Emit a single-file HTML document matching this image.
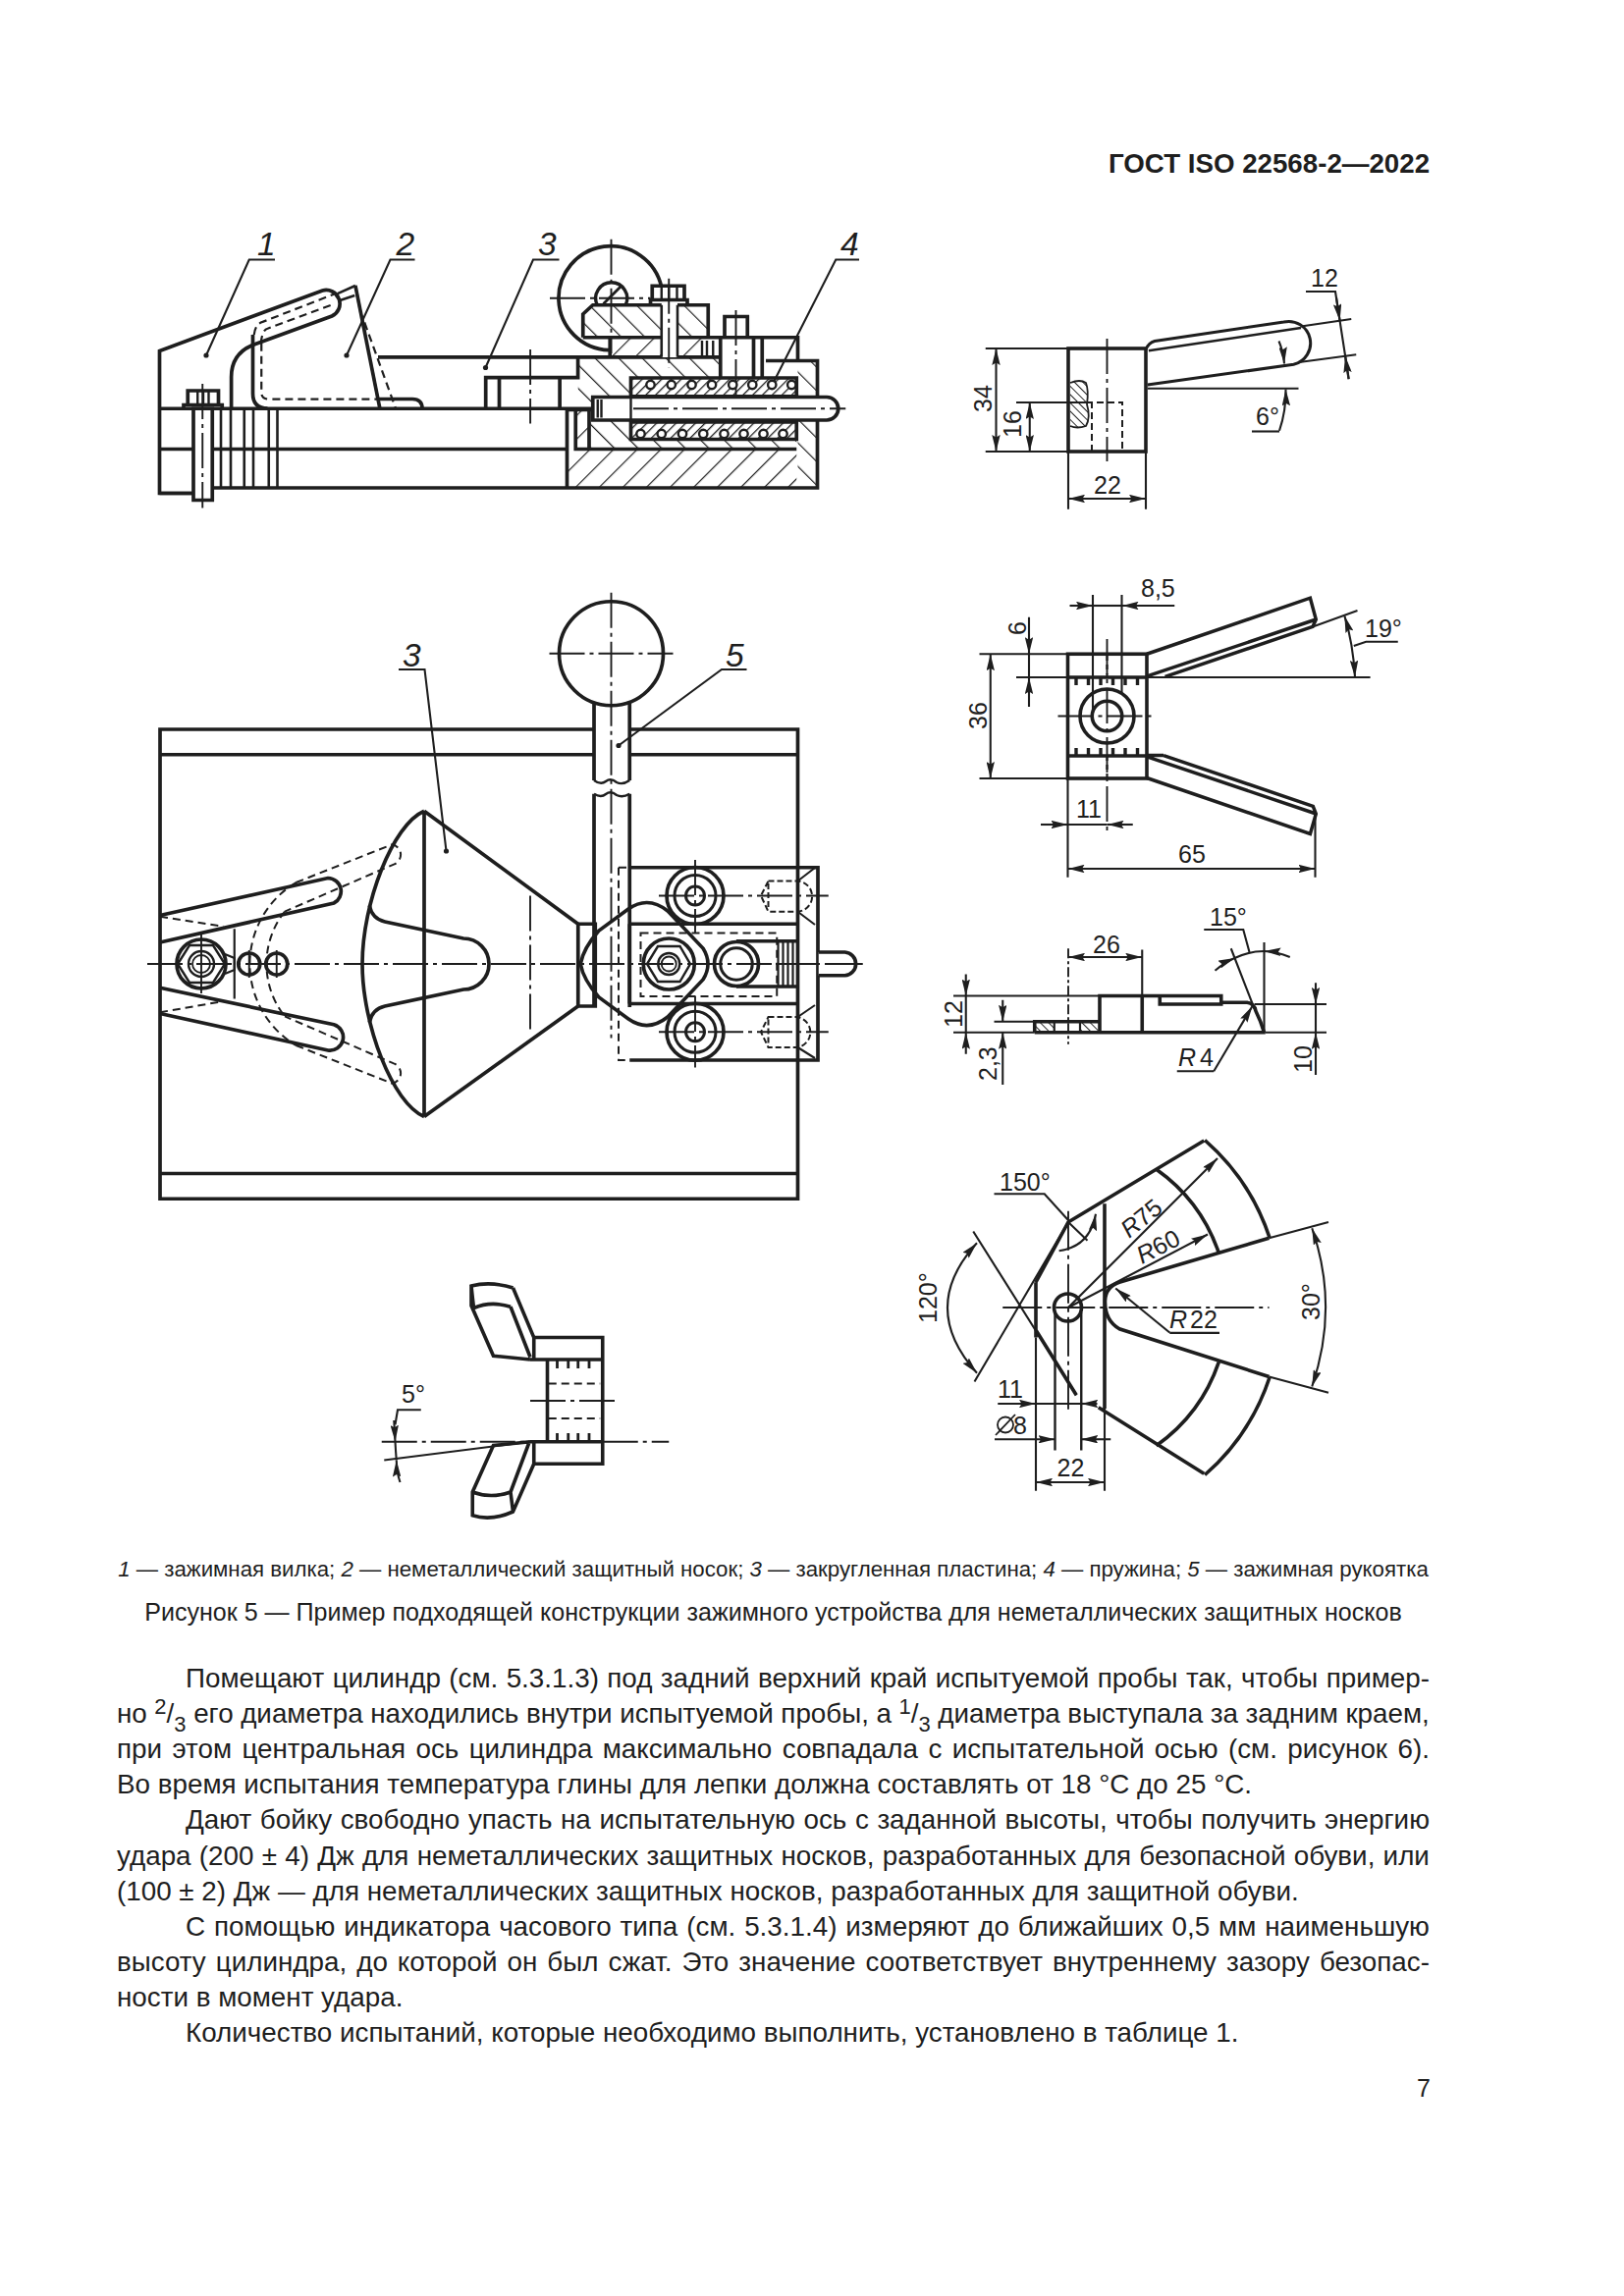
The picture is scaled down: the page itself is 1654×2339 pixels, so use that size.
<!DOCTYPE html>
<html><head><meta charset="utf-8">
<style>
html,body{margin:0;padding:0;background:#fff;}
body{width:1654px;height:2339px;position:relative;overflow:hidden;font-family:"Liberation Sans",sans-serif;color:#1e1e1e;}
.t{position:absolute;white-space:nowrap;line-height:1;}
.p{position:absolute;font-size:27.8px;line-height:36px;height:36px;white-space:nowrap;}
.jf{display:flex;justify-content:space-between;}
sup,sub{font-size:22px;line-height:0;position:relative;vertical-align:baseline;}
sup{top:-9.3px;} sub{top:9px;}
svg{position:absolute;left:0;top:0;}
</style></head><body>
<div class="t" style="left:1129px;top:153.3px;font-size:27.7px;font-weight:bold;">ГОСТ ISO 22568-2—2022</div>
<div class="t" style="left:0;width:1575px;text-align:center;top:1588px;font-size:22.25px;"><i>1</i> — зажимная вилка; <i>2</i> — неметаллический защитный носок; <i>3</i> — закругленная пластина; <i>4</i> — пружина; <i>5</i> — зажимная рукоятка</div>
<div class="t" style="left:0;width:1575px;text-align:center;top:1630px;font-size:25.05px;">Рисунок 5 — Пример подходящей конструкции зажимного устройства для неметаллических защитных носков</div>
<div class="p jf" style="left:189px;top:1692.0px;width:1267px"><span>Помещают</span><span>цилиндр</span><span>(см.</span><span>5.3.1.3)</span><span>под</span><span>задний</span><span>верхний</span><span>край</span><span>испытуемой</span><span>пробы</span><span>так,</span><span>чтобы</span><span>пример-</span></div>
<div class="p jf" style="left:119px;top:1728.1px;width:1337px"><span>но</span><span><sup>2</sup>/<sub>3</sub></span><span>его</span><span>диаметра</span><span>находились</span><span>внутри</span><span>испытуемой</span><span>пробы,</span><span>а</span><span><sup>1</sup>/<sub>3</sub></span><span>диаметра</span><span>выступала</span><span>за</span><span>задним</span><span>краем,</span></div>
<div class="p jf" style="left:119px;top:1764.2px;width:1337px"><span>при</span><span>этом</span><span>центральная</span><span>ось</span><span>цилиндра</span><span>максимально</span><span>совпадала</span><span>с</span><span>испытательной</span><span>осью</span><span>(см.</span><span>рисунок</span><span>6).</span></div>
<div class="p" style="left:119px;top:1800.3px">Во время испытания температура глины для лепки должна составлять от 18 °С до 25 °С.</div>
<div class="p jf" style="left:189px;top:1836.4px;width:1267px"><span>Дают</span><span>бойку</span><span>свободно</span><span>упасть</span><span>на</span><span>испытательную</span><span>ось</span><span>с</span><span>заданной</span><span>высоты,</span><span>чтобы</span><span>получить</span><span>энергию</span></div>
<div class="p jf" style="left:119px;top:1872.5px;width:1337px"><span>удара</span><span>(200</span><span>±</span><span>4)</span><span>Дж</span><span>для</span><span>неметаллических</span><span>защитных</span><span>носков,</span><span>разработанных</span><span>для</span><span>безопасной</span><span>обуви,</span><span>или</span></div>
<div class="p" style="left:119px;top:1908.6px">(100 ± 2) Дж — для неметаллических защитных носков, разработанных для защитной обуви.</div>
<div class="p jf" style="left:189px;top:1944.7px;width:1267px"><span>С</span><span>помощью</span><span>индикатора</span><span>часового</span><span>типа</span><span>(см.</span><span>5.3.1.4)</span><span>измеряют</span><span>до</span><span>ближайших</span><span>0,5</span><span>мм</span><span>наименьшую</span></div>
<div class="p jf" style="left:119px;top:1980.8px;width:1337px"><span>высоту</span><span>цилиндра,</span><span>до</span><span>которой</span><span>он</span><span>был</span><span>сжат.</span><span>Это</span><span>значение</span><span>соответствует</span><span>внутреннему</span><span>зазору</span><span>безопас-</span></div>
<div class="p" style="left:119px;top:2016.9px">ности в момент удара.</div>
<div class="p" style="left:189px;top:2053.0px">Количество испытаний, которые необходимо выполнить, установлено в таблице 1.</div>
<div class="t" style="left:1443px;top:2114.5px;font-size:25px;">7</div>
<svg width="1654" height="2339" viewBox="0 0 1654 2339" fill="none" stroke="#1e1e1e" stroke-width="3.7" stroke-linecap="butt" stroke-linejoin="miter">
<defs>
<pattern id="hb" patternUnits="userSpaceOnUse" width="17" height="17" patternTransform="rotate(45)"><line x1="0" y1="-1" x2="0" y2="18" stroke="#1e1e1e" stroke-width="2.4"/></pattern>
<pattern id="hf" patternUnits="userSpaceOnUse" width="17" height="17" patternTransform="rotate(-45)"><line x1="0" y1="-1" x2="0" y2="18" stroke="#1e1e1e" stroke-width="2.4"/></pattern>
<pattern id="hs" patternUnits="userSpaceOnUse" width="7" height="7" patternTransform="rotate(45)"><line x1="0" y1="-1" x2="0" y2="8" stroke="#1e1e1e" stroke-width="2.6"/></pattern>
<pattern id="hd" patternUnits="userSpaceOnUse" width="6" height="6" patternTransform="rotate(-45)"><line x1="0" y1="-1" x2="0" y2="7" stroke="#1e1e1e" stroke-width="1.9"/></pattern>
</defs>
<g id="A">
<!-- labels -->
<g font-family="Liberation Sans" font-style="italic" font-size="33.5" fill="#1e1e1e" stroke="none">
<text x="262" y="260">1</text><text x="403.5" y="260">2</text><text x="548" y="260">3</text><text x="856" y="260">4</text>
</g>
<g stroke-width="2.1">
<path d="M280,264.5 H253.75 L210,362 M422.5,264.5 H397.5 L353,362 M569.5,264.5 H543 L494.5,374.5 M875,264.5 H851.25 L786.25,392.5"/>
</g>
<g fill="#1e1e1e" stroke="none"><circle cx="210" cy="362" r="2.6"/><circle cx="353" cy="362" r="2.6"/><circle cx="494.5" cy="374.5" r="2.6"/></g>
<!-- hatched regions -->
<g stroke="none">
<path fill="url(#hf)" d="M593.75,320 L603.75,310.75 H721.25 V343.75 H593.75 Z"/>
<path fill="url(#hb)" d="M621.25,343.75 H673.75 V363.75 H621.25 Z M690,343.75 H715 V363.75 H690 Z"/>
<path fill="url(#hf)" d="M588.75,363.75 H733.75 V385 H642.5 V404.5 H603.75 V428 H642.5 V447.5 H811.25 V457.5 H600 V417.5 H588.75 Z"/>
<path fill="url(#hb)" d="M577.5,457.5 H811.25 V497 H577.5 Z M586.25,417.5 H600 V457.5 H586.25 Z"/>
<path fill="url(#hf)" d="M812.5,367.5 H832.5 V497 H812.5 Z"/>
<path fill="url(#hs)" d="M642.5,385 H811.25 V403.75 H642.5 Z M642.5,430 H811.25 V447.5 H642.5 Z"/>
</g>
<!-- part 1 -->
<path d="M196,502.5 H162.5 V357.5 L328.4,296 A13.9,13.9 0 0 1 338,322 L258.75,351 C243,357 235.6,368 235.6,384 V416.25"/>
<path stroke-width="2.6" d="M343.75,299.1 L361.9,291 M346.25,306 L361.25,301"/>
<path d="M361.9,290.75 L386.9,416.25"/>
<path stroke-width="2.2" stroke-dasharray="8,5" d="M371.25,328.5 L403.1,416.25"/>
<path d="M257.5,341 V401 Q257.5,416 272.5,416"/>
<path stroke-width="2.2" stroke-dasharray="8,5" d="M266.25,349.75 V399.75 Q266.25,406.6 273.75,406.6 H386.5 M258.75,341 Q260,330 267.5,327.9 L340,299.75 M265.6,350 Q267,336 272.5,334.75 L340,309.75"/>
<path d="M386,406.5 H420 Q430,406.5 430,416.25"/>
<!-- base lines -->
<path d="M162.5,416.25 H604 M162.5,457.5 H197 M216.25,457.5 H577.5 M216.25,497 H832.5 V367.5 H780 M162.5,502.5 H197"/>
<path stroke-width="2.6" d="M225,416.25 V497 M235,416.25 V497 M248.75,416.25 V497 M258,416.25 V497 M273.75,416.25 V497 M282.5,416.25 V497"/>
<!-- bolt left -->
<path fill="#fff" d="M197,416.25 H216.25 V509.5 H197 Z"/>
<path d="M191.25,412.5 V398 H222.5 V412.5"/>
<path stroke-width="2.4" d="M201.25,398 V412 M207,398 V412 M212.5,398 V412"/>
<path d="M187,416.25 V412.5 H226.25 V416.25"/>
<path stroke-width="1.9" stroke-dasharray="36,5,4,5" d="M206.25,391 V517.5"/>
<!-- plate 3 -->
<path d="M385,363.9 H733.75 M588.6,363.9 V384.6 H494.7 V416.25 M508.5,384.6 V416.25 M570.1,384.6 V416.25"/>
<path stroke-width="1.9" stroke-dasharray="36,5,4,5" d="M540.1,356 V431.6"/>
<!-- housing -->
<path d="M577.5,417.5 V497 M586.25,417.5 V457.5 H811.25 M600,417.5 V457.5 M577.5,417.5 H604"/>
<path d="M593.75,343.75 V320 L603.75,310.75 H721.25 V343.75 M593.75,343.75 H812.5 V367.5 M621.25,343.75 V363.75"/>
<path d="M673.75,292.5 A53,53 0 1 0 620,356.7"/>
<path stroke-width="3.4" d="M608.3,310.75 A16,16 0 1 1 637.1,310.75"/><path stroke-width="2.8" d="M614.6,309.6 L632.3,291.8"/>
<path stroke-width="1.9" stroke-dasharray="36,5,4,5" d="M622.5,243.75 V360 M560,303.75 H662.5"/>
<!-- top bolt -->
<path fill="#fff" d="M664.25,306 V291.25 H697 V306"/>
<path stroke-width="2.4" d="M673.75,291.25 V306 M681.25,291.25 V306 M689.5,291.25 V306"/>
<path d="M662.5,310 V305.5 H700 V310"/>
<rect x="673.75" y="309" width="16.25" height="55" fill="#fff" stroke="none"/><path stroke-width="2.6" d="M673.75,310.75 V363.75 M690,310.75 V363.75"/>
<path stroke-width="1.9" stroke-dasharray="36,5,4,5" d="M681.25,283.75 V375"/>
<path stroke-width="2.4" d="M715,347 V363.75 M720,347 V363.75 M726.25,347 V363.75"/>
<!-- pin -->
<path d="M738,343.75 V322.5 H761.25 V343.75 M733.75,343.75 V385 M767.5,343.75 V385 M776.25,343.75 V385"/>
<path stroke-width="1.9" stroke-dasharray="36,5,4,5" d="M749.5,316 V412.5"/>
<!-- spring cavity -->
<path d="M642.5,385 H811.25 V447.5 H642.5 Z M642.5,403.75 H811.25 M642.5,430 H811.25"/>
<g stroke-width="2.4" fill="#fff">
<circle cx="662.5" cy="392" r="4.2"/><circle cx="683.75" cy="392" r="4.2"/><circle cx="704.5" cy="392" r="4.2"/><circle cx="725" cy="392" r="4.2"/><circle cx="746.25" cy="392" r="4.2"/><circle cx="766.25" cy="392" r="4.2"/><circle cx="786.25" cy="392" r="4.2"/><circle cx="806.25" cy="392" r="4.2"/>
<circle cx="652.5" cy="442" r="4.2"/><circle cx="673.75" cy="442" r="4.2"/><circle cx="695" cy="442" r="4.2"/><circle cx="716.25" cy="442" r="4.2"/><circle cx="737.5" cy="442" r="4.2"/><circle cx="757.5" cy="442" r="4.2"/><circle cx="777.5" cy="442" r="4.2"/><circle cx="797.5" cy="442" r="4.2"/>
</g>
<!-- plunger -->
<path fill="#fff" d="M603.75,404.5 H842 A11.75,11.75 0 0 1 842,428 H603.75 Z"/>
<path stroke-width="2.4" d="M608.75,407 V425.5 M612.5,407 V425.5 M642.5,404.5 V428"/>
<path stroke-width="1.9" stroke-dasharray="36,5,4,5" d="M645,416.25 H861.25"/>
</g>
<g id="B">
<defs>
<marker id="ar" viewBox="0 0 17 8.4" refX="17" refY="4.2" markerWidth="17" markerHeight="8.4" markerUnits="userSpaceOnUse" orient="auto-start-reverse"><path d="M0,0 L17,4.2 L0,8.4 L2.5,4.2 Z" fill="#1e1e1e" stroke="none"/></marker>
</defs>
<g font-family="Liberation Sans" font-size="25" fill="#1e1e1e" stroke="none">
<text x="1114" y="503">22</text>
<text transform="translate(1009.5,420) rotate(-90)">34</text>
<text transform="translate(1039.5,446) rotate(-90)">16</text>
<text x="1335" y="291.5">12</text>
<text x="1279" y="433">6°</text>
</g>
<path fill="url(#hd)" stroke="none" d="M1090,390 Q1100,386 1106,390 Q1109,398 1107,412 Q1111,425 1106,434 Q1097,437 1090,434 Z"/>
<path stroke-width="1.8" d="M1090,390 Q1100,386 1106,390 Q1109,398 1107,412 Q1111,425 1106,434 Q1097,437 1090,434"/>
<rect x="1088" y="355" width="79" height="105" stroke-width="3.6"/>
<path stroke-width="2" stroke-dasharray="7,4" d="M1112,460 V410 H1143 V460"/>
<path stroke-width="1.9" stroke-dasharray="36,5,4,5" d="M1127.5,345 V470"/>
<g stroke-width="2.1">
<path d="M1003.75,355 H1088 M1003.75,460 H1088 M1035,410 H1112 M1088,460 V518.75 M1167,460 V518.75"/>
<path marker-start="url(#ar)" marker-end="url(#ar)" d="M1014.5,355 V460"/>
<path marker-start="url(#ar)" marker-end="url(#ar)" d="M1048.75,410 V460"/>
<path marker-start="url(#ar)" marker-end="url(#ar)" d="M1088,508 H1167"/>
</g>
<!-- handle -->
<path stroke-width="3" d="M1167,356 Q1170,349 1176,347.5 L1307.5,328 A22,22 0 0 1 1317.5,371.25 L1168.75,392"/>
<path stroke-width="2.6" d="M1169.9,357.3 L1325,334"/>
<g stroke-width="2.1">
<path d="M1168.75,395.75 H1322.5"/>
<path d="M1325,332.5 L1376.25,325 M1325,368.75 L1381.25,361.25"/>
<path d="M1330,297 H1360 L1373.75,386.25"/>
<path marker-end="url(#ar)" d="M1361,303 L1364.6,326.7"/>
<path marker-end="url(#ar)" d="M1373.5,386 L1370.1,362.7"/>
<path marker-end="url(#ar)" d="M1302.5,347.5 Q1307,358 1308,370.5"/>
<path marker-end="url(#ar)" d="M1303,438.75 Q1310,418 1309.5,396.5"/>
<path d="M1275,439.5 H1303"/>
</g>
</g>
<g id="C">
<g font-family="Liberation Sans" font-style="italic" font-size="33.5" fill="#1e1e1e" stroke="none">
<text x="410" y="678.5">3</text><text x="739" y="678.5">5</text>
</g>
<g stroke-width="2.1">
<path d="M406,682 H432.5 L454.5,867 M760.5,682 H735 L630,759.5"/>
</g>
<g fill="#1e1e1e" stroke="none"><circle cx="454.5" cy="867" r="2.6"/><circle cx="630" cy="759.5" r="2.6"/></g>
<!-- outer plate rect -->
<path d="M605,743 H163 V1221.25 H812.5 V1080 M641.25,743 H812.5 V884 M163,768.75 H605 M641.25,768.75 H812.5 M163,1195.5 H812.5"/>
<!-- knob + rod -->
<circle cx="622.5" cy="665.75" r="53"/>
<path d="M605,717 V795 M641.25,717 V795 M605,808.75 V1026 M641.25,808.75 V1026"/>
<path stroke-width="2.4" d="M605,795 Q612,800 617,796 Q622,792 628,797 Q634,800 641.25,795 M605,808.75 Q612,813 617,809 Q622,805 628,810 Q634,813 641.25,808.75"/>
<path stroke-width="1.9" stroke-dasharray="36,5,4,5" d="M622.5,603.75 V1057.5 M559.5,665.75 H685.5"/>
<!-- plate 3 cone -->
<path d="M432,826.25 V1137.5 M432,826.25 L588.75,941.25 M432,1137.5 L588.75,1025 M432,826.25 C400,840 369,920 369,982 C369,1044 400,1124 432,1137.5"/>
<path d="M588.75,941.25 V1025 H606.25 V941.25 Z"/>
<path d="M376.25,922.5 Q379,936 392,939 L472,956 A26,26 0 0 1 472,1008 L392,1025 Q379,1028 376.25,1041.5"/>
<path stroke-width="1.9" stroke-dasharray="36,5,4,5" d="M540,912.5 V1052.5 M150,982 H878.75"/>
<!-- fork arms (part 1) -->
<path d="M163,932.5 L334,894.5 A13.5,13.5 0 0 1 340,920 L163,960 M163,1006.25 L340,1043.75 A13.5,13.5 0 0 1 334,1070 L163,1032.5"/>
<path stroke-width="2" stroke-dasharray="8,5" d="M163,933.75 L227.5,943.75 M163,1031.25 L227.5,1020"/>
<path stroke-width="2.2" d="M238.75,946.25 V1017.5"/>
<!-- nut -->
<circle cx="205" cy="982" r="25"/>
<path stroke-width="2.4" d="M193,963 H217 L229,982 L217,1001 H193 L181,982 Z"/>
<circle cx="205" cy="982" r="13" stroke-width="2.4"/><circle cx="205" cy="982" r="9" stroke-width="1.8"/>
<path stroke-width="2.2" d="M229,972 L238.75,976 V988 L229,992"/>
<circle cx="253.75" cy="982" r="11"/><circle cx="281.75" cy="982" r="11"/>
<path stroke-width="1.9" d="M205,952 V1012 M253.75,968 V996 M281.75,968 V996"/>
<!-- phantom fork -->
<path stroke-width="2" stroke-dasharray="8,5" d="M301.5,899 A96.7,96.7 0 0 0 301.5,1065 M290,928.6 A86,86 0 0 0 290,1035.4 M301.5,899 L399.3,860.3 A10.5,10.5 0 0 1 401,880.6 L290,928.6 M301.5,1065 L399.3,1103.7 A10.5,10.5 0 0 0 401,1083.4 L290,1035.4"/>
<!-- right housing -->
<path d="M641.25,883.75 H833 V1080 H641.25"/>
<path stroke-width="2" stroke-dasharray="8,5" d="M630,883.75 V1080 H641.25 M630,883.75 H641.25"/>
<path d="M641.25,941.25 H812.5 M641.25,1022.5 H812.5 M641.25,941.25 V1022.5 M812.5,883.75 V1080"/>
<g>
<circle cx="708" cy="912.5" r="29"/><circle cx="708" cy="912.5" r="21" stroke-width="3"/><circle cx="708" cy="912.5" r="9.5" stroke-width="3"/>
<circle cx="708" cy="1051.25" r="29"/><circle cx="708" cy="1051.25" r="21" stroke-width="3"/><circle cx="708" cy="1051.25" r="9.5" stroke-width="3"/>
</g>
<path stroke-width="1.9" stroke-dasharray="36,5,4,5" d="M671,912.5 H843.75 M671,1051.25 H843.75 M708,876 V950 M708,1015 V1087.5"/>
<!-- screws -->
<g stroke-width="2" stroke-dasharray="6,3">
<path d="M782.5,897.5 H811.5 A15.6,15.6 0 0 1 811.5,928.75 H782.5 L775,912.5 Z M782.5,900 V926"/>
<path d="M782.5,1036 H811.5 A15.6,15.6 0 0 1 811.5,1067 H782.5 L775,1051.25 Z M782.5,1038.5 V1064.5"/>
</g>
<path stroke-width="2.1" d="M812.5,897.5 L830,884 M812.5,928.75 L830,942 M812.5,1036 L830,1024 M812.5,1067 L830,1078"/>
<!-- cam plate -->
<path stroke-width="3.6" d="M591.25,982 Q594,966 610,948 L640,926 Q660,912 680,928 L716,966 Q726,982 716,998 L680,1036 Q660,1052 640,1038 L610,1016 Q594,998 591.25,982 Z"/>
<!-- nut 2 -->
<circle cx="681.25" cy="982" r="26"/>
<path stroke-width="2.4" d="M670,964 H692.5 L703,982 L692.5,1000 H670 L659,982 Z"/>
<circle cx="681.25" cy="982" r="11" stroke-width="2.4"/><circle cx="681.25" cy="982" r="7.5" stroke-width="1.8"/>
<circle cx="750" cy="982" r="22.5"/><circle cx="750" cy="982" r="16.25" stroke-width="3"/>
<path d="M750,958.75 H812.5 M750,1005 H812.5"/>
<path stroke-width="2.2" d="M792.5,959 V1005 M797.5,959 V1005 M802.5,959 V1005 M807.5,959 V1005"/>
<path stroke-width="2" stroke-dasharray="8,5" d="M652.5,950.5 H791.25 V1015 H652.5 Z"/>
<path fill="#fff" d="M833.75,970 H860.5 A11.9,11.9 0 0 1 860.5,993.75 H833.75"/>
<path stroke-width="1.9" stroke-dasharray="36,5,4,5" d="M790,982 H878.75"/>
</g>
<g id="D">
<g font-family="Liberation Sans" font-size="25" fill="#1e1e1e" stroke="none">
<text x="1162" y="607.5">8,5</text>
<text transform="translate(1044.5,647) rotate(-90)">6</text>
<text transform="translate(1004.5,743) rotate(-90)">36</text>
<text x="1096" y="832.5">11</text>
<text x="1200" y="879">65</text>
<text x="1390" y="648.5">19°</text>
</g>
<rect x="1087.5" y="666.25" width="80.5" height="126.75" stroke-width="3.6"/>
<path stroke-width="3.6" d="M1087.5,690 H1168 M1087.5,770 H1168"/>
<path stroke-width="3.4" d="M1096,690 V698 M1108.5,690 V698 M1121,690 V698 M1133.5,690 V698 M1146,690 V698 M1158.5,690 V698 M1096,762 V770 M1108.5,762 V770 M1121,762 V770 M1133.5,762 V770 M1146,762 V770 M1158.5,762 V770"/>
<circle cx="1127.5" cy="729.5" r="27.5" stroke-width="3.6"/>
<circle cx="1127.5" cy="729.5" r="15.25" stroke-width="3.6"/>
<path stroke-width="1.9" stroke-dasharray="36,5,4,5" d="M1127.5,651 V851 M1077.5,729.5 H1177.5"/>
<path stroke-width="2.2" stroke-dasharray="5,4" d="M1127.5,668 V690 M1127.5,770 V792"/>
<g stroke-width="2.1">
<path d="M1113,606 V725 M1142.5,606 V705"/>
<path d="M997.5,666.25 H1087.5 M1035,690 H1087.5 M997.5,793 H1087.5 M1087.5,793 V893.75 M1339.5,830 V893.75"/>
<path marker-end="url(#ar)" d="M1089.5,617 H1113"/>
<path marker-end="url(#ar)" d="M1196.25,617 H1142.5"/>
<path d="M1113,617 H1142.5"/>
<path marker-end="url(#ar)" d="M1048,628.75 V666.25"/>
<path marker-end="url(#ar)" d="M1048,720 V690"/>
<path d="M1048,666.25 V690"/>
<path marker-start="url(#ar)" marker-end="url(#ar)" d="M1008.75,666.25 V793"/>
<path marker-end="url(#ar)" d="M1060,840 H1087.5"/>
<path marker-end="url(#ar)" d="M1153.75,840 H1127.5"/>
<path d="M1087.5,840 H1127.5"/>
<path marker-start="url(#ar)" marker-end="url(#ar)" d="M1087.5,885 H1339.5"/>
<path d="M1168,690 H1395.6 M1337,638.4 L1382.5,621.9"/>
<path marker-start="url(#ar)" marker-end="url(#ar)" d="M1369.4,627.5 Q1378,655 1380,689.75"/>
<path d="M1378.75,658 L1391.25,653.75 H1423.75"/>
</g>
<!-- arms -->
<path stroke-width="3.5" d="M1168,666.25 L1334.4,609.2 L1340.3,631 L1337,638.4 L1186.6,689.4 M1340.3,631 L1168.9,688.7"/>
<path stroke-width="3.5" d="M1185.1,769.6 H1168 M1185.1,769.6 L1337.3,821.3 L1340.3,829 L1334.4,849.4 L1168,792.5 M1168.9,771.1 L1340.3,829"/>
</g>
<g id="E">
<g font-family="Liberation Sans" font-size="25" fill="#1e1e1e" stroke="none">
<text x="1113" y="970.5">26</text>
<text x="1232" y="943">15°</text>
<text transform="translate(980,1047) rotate(-90)">12</text>
<text transform="translate(1014.5,1101) rotate(-90)">2,3</text>
<text transform="translate(1336,1093) rotate(-90)">10</text>
<text x="1200" y="1085.5"><tspan font-style="italic">R</tspan><tspan dx="4">4</tspan></text>
</g>
<path fill="url(#hd)" stroke="none" d="M1055,1040.75 H1073.75 V1051.75 H1055 Z M1100,1040.75 H1118.75 V1051.75 H1100 Z"/>
<path stroke-width="3.6" d="M1053.75,1051.75 H1288.75 M1053.75,1051.75 V1040.75 H1120 M1120,1051.75 V1014.5 H1243.75 V1023 H1181.25 V1014.5 M1163.25,1014.5 V1051.75 M1243.75,1021.25 H1270 Q1277.5,1022 1279,1030 Q1284,1040 1287.5,1051.75"/>
<path stroke-width="2.2" d="M1073.75,1040.75 V1051.75 M1100,1040.75 V1051.75"/>
<path stroke-width="1.9" stroke-dasharray="10,3,3,3" d="M1088,966.25 V1063.75"/>
<g stroke-width="2.1">
<path d="M971,1014.5 H1120 M971,1051.75 H1053.75 M1288.75,1051.75 H1351 M1012.5,1040.75 H1053.75 M1277.5,1023 H1351 M1163.25,967.5 V1014.5 M1287.5,960 V1051.75 M1253.75,966.25 L1277.5,1027.5"/>
<path marker-start="url(#ar)" marker-end="url(#ar)" d="M1088,975 H1163.25"/>
<path marker-end="url(#ar)" d="M983.75,992.5 V1014.5"/>
<path marker-end="url(#ar)" d="M983.75,1073.75 V1051.75"/>
<path d="M983.75,1014.5 V1051.75"/>
<path marker-end="url(#ar)" d="M1021.25,1018.75 V1040.75"/>
<path marker-end="url(#ar)" d="M1021.25,1105 V1051.75"/>
<path marker-end="url(#ar)" d="M1340,1001.25 V1023"/>
<path marker-end="url(#ar)" d="M1340,1095 V1051.75"/>
<path d="M1340,1023 V1051.75"/>
<path marker-end="url(#ar)" d="M1237.5,988.75 Q1248,980 1257.5,976"/>
<path d="M1257.5,976 Q1272,969 1287.5,969"/>
<path marker-end="url(#ar)" d="M1313.75,975 Q1300,969.5 1287.5,969"/>
<path d="M1272.5,970 L1266.25,947 H1226.25"/>
<path marker-end="url(#ar)" d="M1236.25,1091.25 L1275.5,1025"/>
<path d="M1198.75,1091.25 H1236.25"/>
</g>
</g>
<g id="F">
<g font-family="Liberation Sans" font-size="25" fill="#1e1e1e" stroke="none">
<text x="1018" y="1213">150°</text>
<text transform="translate(954,1348) rotate(-90)">120°</text>
<text transform="translate(1344,1345) rotate(-90)">30°</text>
<text x="1016" y="1424">11</text>
<text x="1032" y="1460.5">8</text>
<text x="1076.5" y="1504">22</text>
<text x="1191" y="1353"><tspan font-style="italic">R</tspan><tspan dx="3">22</tspan></text>
<text transform="translate(1150,1262) rotate(-39)"><tspan font-style="italic">R</tspan>75</text>
<text transform="translate(1163,1288) rotate(-27)"><tspan font-style="italic">R</tspan>60</text>
</g>
<!-- thick outline -->
<g stroke-width="3.6">
<path d="M1055,1306.25 V1362.5 M1055,1306.25 L1088,1245 L1226.25,1162 M1055,1355 L1096.25,1421.25 M1118.75,1433.75 L1226.25,1501.25 M1125,1226.25 V1435"/>
<path d="M1227.1,1161.5 A226.5,226.5 0 0 1 1293.1,1261 M1177.7,1191.2 A172.5,172.5 0 0 1 1241.3,1276.3"/>
<path d="M1293.1,1403 A226.5,226.5 0 0 1 1227.1,1502.5 M1241.3,1387.7 A172.5,172.5 0 0 1 1177.7,1472.8"/>
<path d="M1292.5,1261.25 L1140,1306.25 Q1126,1311 1125.5,1325 Q1125,1345 1140,1353.75 L1292.5,1402.5"/>
<circle cx="1087.5" cy="1332" r="14"/>
</g>
<circle cx="1024" cy="1451.5" r="8" stroke-width="1.8"/><path stroke-width="1.8" d="M1014,1462 L1034,1441"/>
<path stroke-width="2.4" d="M1074.5,1337 V1477.5 M1101.25,1337 V1477.5"/>
<g stroke-width="2.1">
<path d="M1292.5,1261.25 L1353,1245 M1292.5,1402.5 L1353,1418.75"/>
<path marker-start="url(#ar)" marker-end="url(#ar)" d="M1336.25,1251.25 Q1364,1331.25 1336.25,1412.5"/>
<path d="M991.25,1254.5 L1096.25,1421.25 M992.5,1407.5 L1088,1245"/>
<path marker-start="url(#ar)" marker-end="url(#ar)" d="M995,1266.25 Q935,1332 995,1398.75"/>
<path marker-end="url(#ar)" d="M1078.6,1274.2 Q1110,1270 1116,1236.8"/>
<path d="M1088,1245 L1107.5,1263.75 M1012.5,1216.25 H1063.75 L1087.5,1242.5"/>
<path marker-end="url(#ar)" d="M1088,1332 L1240,1180"/>
<path marker-end="url(#ar)" d="M1088,1332 L1230,1257.5"/>
<path marker-end="url(#ar)" d="M1191.25,1357.5 L1136.25,1312.5"/>
<path d="M1191.25,1357.9 H1242"/>
<path marker-end="url(#ar)" d="M1016.25,1430 H1055"/>
<path marker-end="url(#ar)" d="M1117.5,1430 H1101.25"/>
<path d="M1055,1430 H1101.25"/>
<path marker-end="url(#ar)" d="M1013,1466.25 H1074.5"/>
<path marker-end="url(#ar)" d="M1131.25,1466.25 H1101.25"/>
<path marker-start="url(#ar)" marker-end="url(#ar)" d="M1055,1510 H1125"/>
<path d="M1055,1362.5 V1518.75 M1125,1435 V1518.75"/>
</g>
<path stroke-width="1.9" stroke-dasharray="40,5,4,5" d="M1021.25,1332 H1292.5 M1088,1233.75 V1438.75"/>
</g>
<g id="G">
<g font-family="Liberation Sans" font-size="25" fill="#1e1e1e" stroke="none">
<text x="409" y="1429">5°</text>
</g>
<g stroke-width="3.6">
<path d="M540,1385 H613.75 V1362.5 H543.75 M613.75,1362.5 V1491.25 H543.75 M540,1468.75 H613.75 M557.5,1385 V1468.75"/>
<path d="M482.5,1332.5 Q481,1320 480,1310 Q500,1305 522.5,1312 M482.5,1332.5 Q500,1325 520,1331.25 M480,1310 V1330 L502.5,1381.25 L540,1385 M522.5,1312 L543.75,1362.5 V1385 M520,1331.25 L540,1382.5"/>
<path d="M540,1468.75 L502.5,1472.5 L481.25,1520 V1543.75 Q500,1550 522.5,1540 L543.75,1491.25 V1470 M481.25,1520 Q500,1527 520,1520 L538.75,1470 M520,1520 L522.5,1540"/>
</g>
<path stroke-width="2.8" d="M567.5,1386 V1394 M578.75,1386 V1394 M588.75,1386 V1394 M600,1386 V1394 M567.5,1460 V1468 M578.75,1460 V1468 M588.75,1460 V1468 M600,1460 V1468"/>
<path stroke-width="2" stroke-dasharray="8,5" d="M558.75,1409.5 H611.25 M558.75,1445 H611.25"/>
<path stroke-width="1.9" stroke-dasharray="36,5,4,5" d="M540,1427 H627.5 M388.75,1468.75 H540 M613.75,1468.75 H681.25"/>
<g stroke-width="2.1">
<path d="M391.25,1487.5 L540,1468.75"/>
<path d="M402.5,1451.25 L405,1436.25 H428.75"/>
<path marker-end="url(#ar)" d="M401.25,1447 Q402,1458 402.5,1468.75"/>
<path marker-end="url(#ar)" d="M407.5,1510 Q404,1500 403.75,1487.5"/>
<path d="M402.5,1468.75 Q403,1478 403.75,1487.5"/>
</g>
</g>

</svg>
</body></html>
